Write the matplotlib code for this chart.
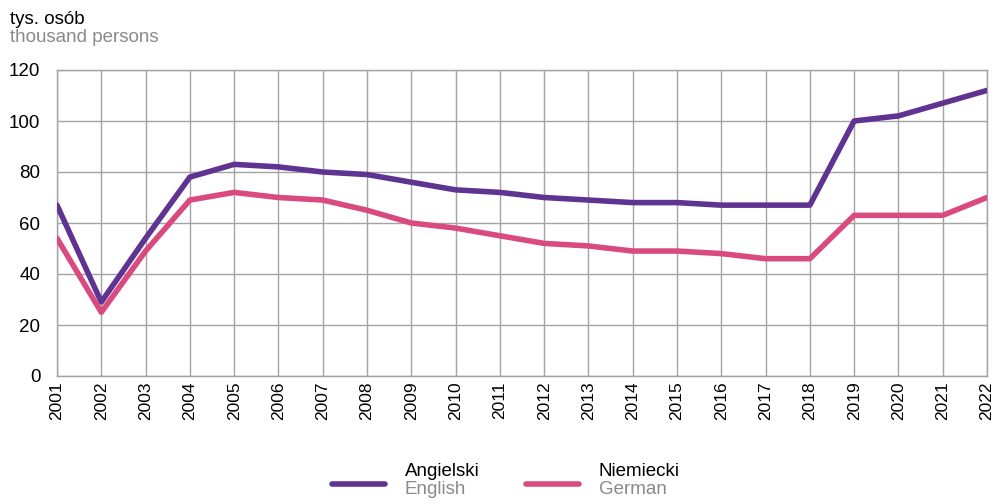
import matplotlib.pyplot as plt
from matplotlib.lines import Line2D

plt.rcParams['font.family'] = ['Liberation Sans', 'DejaVu Sans']

# Dane
years = list(range(2001, 2023))
english = [67, 29, 54, 78, 83, 82, 80, 79, 76, 73, 72, 70, 69, 68, 68, 67, 67, 67, 100, 102, 107, 112]
german = [54, 25, 49, 69, 72, 70, 69, 65, 60, 58, 55, 52, 51, 49, 49, 48, 46, 46, 63, 63, 63, 70]

purple = '#5e3391'
pink = '#d94b7f'
grid_col = '#a3a3a3'

fig = plt.figure(figsize=(9.95, 4.99), dpi=100)
ax = fig.add_axes([57 / 995, 1 - 376 / 499, (987 - 57) / 995, (376 - 70) / 499])

ax.plot(years, english, color=purple, lw=4, solid_capstyle='round', solid_joinstyle='round', zorder=3)
ax.plot(years, german, color=pink, lw=4, solid_capstyle='round', solid_joinstyle='round', zorder=3)

ax.set_xlim(2001, 2022)
ax.set_ylim(0, 120)
ax.set_xticks(years)
ax.set_xticklabels([str(y) for y in years], rotation=90, fontsize=12.5)
ax.set_yticks(range(0, 121, 20))
ax.tick_params(axis='y', labelsize=13.5, length=0, pad=12)
ax.tick_params(axis='x', length=0, pad=4)
ax.grid(True, color=grid_col, lw=1)
ax.set_axisbelow(True)
for s in ax.spines.values():
    s.set_color(grid_col)
    s.set_linewidth(1)

# Jednostka
fig.text(10 / 995, 1 - 19 / 499, 'tys. osób', fontsize=13.5, color='black', va='center')
fig.text(10 / 995, 1 - 38 / 499, 'thousand persons', fontsize=13.5, color='#8a8a8a', va='center')

# Legenda
entries = [(purple, 'Angielski', 'English', 332), (pink, 'Niemiecki', 'German', 526)]
for col, pl, en, x0 in entries:
    fig.add_artist(Line2D([x0 / 995, (x0 + 53) / 995], [1 - 484 / 499, 1 - 484 / 499],
                          color=col, lw=4, solid_capstyle='round'))
    fig.text((x0 + 73) / 995, 1 - 472 / 499, pl, fontsize=13.5, color='black', va='center')
    fig.text((x0 + 73) / 995, 1 - 490 / 499, en, fontsize=13.5, color='#8a8a8a', va='center')

fig.savefig('out.png', dpi=100)
